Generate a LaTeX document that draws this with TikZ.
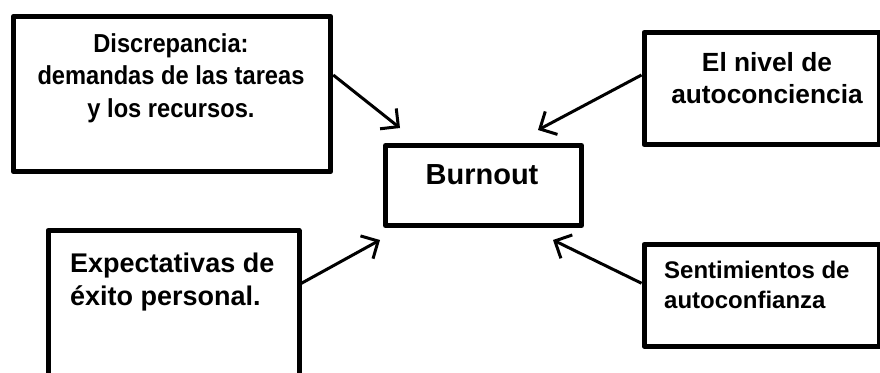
\documentclass[tikz,border=0pt]{standalone}
\usepackage{fontspec}
\setmainfont{Liberation Sans}
\newfontfamily\narrowsans[FakeStretch=0.91]{Liberation Sans}
\usetikzlibrary{arrows.meta, positioning}

\begin{document}
\begin{tikzpicture}[x=1pt, y=-1pt, line join=round,
    box/.style={draw, line width=5pt, inner sep=0pt},
    txt/.style 2 args={inner sep=0pt, font=\bfseries\fontsize{#1}{#2}\selectfont},
    flow/.style={-{Straight Barb[length=13pt, width=26pt]}, line width=3pt}]
    % ================= Canvas =================
    \clip (0,0) rectangle (880,372);
    \fill[white] (0,0) rectangle (880,372);

    % ================= Boxes =================
    \node[box, minimum width=317.5pt, minimum height=155.5pt] (disc)    at (172,94)      {};
    \node[box, minimum width=196pt,   minimum height=80pt]    (burnout) at (483.5,185.5) {};
    \node[box, minimum width=235.5pt, minimum height=112pt]   (nivel)   at (761.75,88.5) {};
    \node[box, minimum width=251pt,   minimum height=169.5pt] (expect)  at (173.5,315.25) {};
    \node[box, minimum width=235.5pt, minimum height=101.5pt] (sent)    at (761.75,295.25) {};

    % ================= Texts =================
    \node[inner sep=0pt, align=center, font=\narrowsans\bfseries\fontsize{26}{32.5}\selectfont] (discT) at (171,78) {Discrepancia:\\demandas de las tareas\\y los recursos.};
    \node[txt={29}{34}] (burnoutT) at (482,174.5) {Burnout};
    \node[txt={26.3}{31.6}, align=center] (nivelT) at (767,78) {El nivel de\\autoconciencia};
    \node[txt={27}{32.3}, align=left, anchor=west] (expectT) at (70,282) {Expectativas de\\éxito personal.};
    \node[txt={24}{30}, align=left, anchor=west] (sentT) at (664,284.5) {Sentimientos de\\autoconfianza};

    % ================= Arrows into Burnout =================
    \coordinate (tipA) at (400,128);
    \coordinate (tipB) at (538,130);
    \coordinate (tipC) at (380,240);
    \coordinate (tipD) at (553,240);

    \draw[flow] ([yshift=19pt]disc.east) -- (tipA);
    \draw[flow] ([yshift=13.5pt]nivel.west) -- (tipB);
    \draw[flow] ([yshift=32pt]expect.east) -- (tipC);
    \draw[flow] ([yshift=12pt]sent.west) -- (tipD);
\end{tikzpicture}
\end{document}
